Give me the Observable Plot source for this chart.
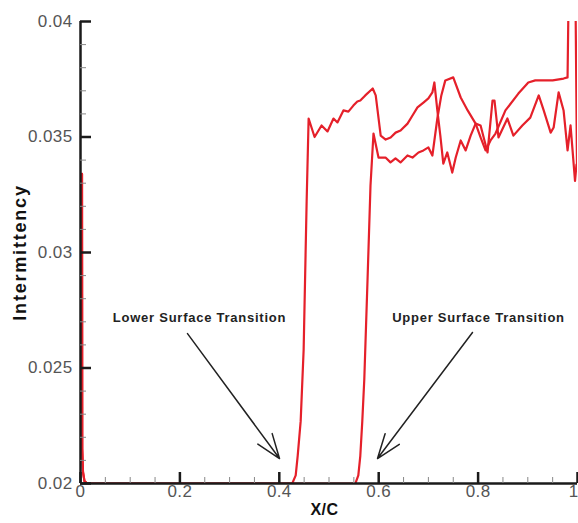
<!DOCTYPE html>
<html>
<head>
<meta charset="utf-8">
<script src="https://cdn.jsdelivr.net/npm/d3@7"></script>
<script src="https://cdn.jsdelivr.net/npm/@observablehq/plot@0.6"></script>
<style>
  html, body { margin: 0; padding: 0; background: #fff; }
  #chart { width: 578px; height: 523px; overflow: hidden; }
</style>
</head>
<body>
<div id="chart"></div>
<script>
// Intermittency along the chord, lower- and upper-surface distributions
const lowerSurface = [
  [0.003, 0.0334], [0.0035, 0.0215], [0.005, 0.0205], [0.008, 0.0201], [0.014, 0.02],
  [0.426, 0.02], [0.433, 0.02035], [0.437, 0.0212], [0.443, 0.0227], [0.449, 0.0258],
  [0.455, 0.0322], [0.459, 0.0358], [0.471, 0.0350], [0.485, 0.0355], [0.497, 0.03524],
  [0.509, 0.0358], [0.517, 0.03563], [0.529, 0.03615], [0.539, 0.0361], [0.549, 0.03636],
  [0.557, 0.03654], [0.563, 0.03658], [0.573, 0.0368], [0.588, 0.0371], [0.594, 0.0368],
  [0.604, 0.03506], [0.614, 0.03489], [0.624, 0.03498], [0.634, 0.03519], [0.644, 0.03528],
  [0.658, 0.03558], [0.668, 0.03593], [0.678, 0.03628], [0.690, 0.03649], [0.700, 0.03667],
  [0.708, 0.03693], [0.712, 0.03736], [0.718, 0.03615], [0.724, 0.03506], [0.730, 0.03385],
  [0.738, 0.03433], [0.748, 0.03346], [0.755, 0.03411], [0.765, 0.03485], [0.775, 0.03442],
  [0.785, 0.03506], [0.795, 0.03558], [0.805, 0.0355], [0.819, 0.03433], [0.829, 0.03658],
  [0.833, 0.03658], [0.841, 0.03498], [0.859, 0.0358], [0.871, 0.03506], [0.889, 0.0355],
  [0.905, 0.03584], [0.922, 0.0368], [0.932, 0.03615], [0.946, 0.03519], [0.952, 0.03541],
  [0.962, 0.03693], [0.972, 0.03615], [0.980, 0.03442], [0.986, 0.0355], [0.995, 0.0331],
  [0.998, 0.0338]
];

const upperSurface = [
  [0.003, 0.0334], [0.0035, 0.0215], [0.005, 0.0205], [0.008, 0.0201], [0.014, 0.02],
  [0.553, 0.02], [0.559, 0.02035], [0.563, 0.0212], [0.567, 0.0227], [0.571, 0.0245],
  [0.5775, 0.0288], [0.5835, 0.0329], [0.5895, 0.03515], [0.5996, 0.03411], [0.6137, 0.03411],
  [0.6237, 0.0339], [0.6338, 0.03407], [0.6439, 0.0339], [0.6579, 0.0342], [0.668, 0.03411],
  [0.680, 0.03433], [0.690, 0.03442], [0.700, 0.03455], [0.708, 0.0342], [0.718, 0.0358],
  [0.726, 0.0368], [0.734, 0.03745], [0.750, 0.03758], [0.765, 0.03671], [0.779, 0.03615],
  [0.795, 0.03558], [0.805, 0.03498], [0.815, 0.03442], [0.825, 0.03485], [0.835, 0.03515],
  [0.855, 0.03615], [0.881, 0.03688], [0.901, 0.03736], [0.915, 0.03745], [0.950, 0.03745],
  [0.972, 0.03753], [0.980, 0.03758], [0.982, 0.0410], [0.996, 0.0410], [0.999, 0.0336]
];

// Axis ticks and their labels
const xMajor = [0, 0.2, 0.4, 0.6, 0.8, 1];
const xLabels = ["0", "0.2", "0.4", "0.6", "0.8", "1"];
const xMinor = [0.05, 0.1, 0.15, 0.25, 0.3, 0.35, 0.45, 0.5, 0.55, 0.65, 0.7, 0.75, 0.85, 0.9, 0.95];
const yMajor = [0.02, 0.025, 0.03, 0.035, 0.04];
const yLabels = ["0.02", "0.025", "0.03", "0.035", "0.04"];
const yMinor = [0.021, 0.022, 0.023, 0.024, 0.026, 0.027, 0.028, 0.029,
                0.031, 0.032, 0.033, 0.034, 0.036, 0.037, 0.038, 0.039];

// Transition annotations: label position, arrow tail and arrow tip
const notes = [
  {text: "Lower Surface Transition", tx: 0.2394, ty: 0.02719, x1: 0.2153, y1: 0.02649, x2: 0.4004, y2: 0.02108},
  {text: "Upper Surface Transition", tx: 0.8008, ty: 0.02719, x1: 0.7887, y1: 0.02654, x2: 0.5976, y2: 0.02108}
];

const W = 578, H = 523, mL = 80, mR = 1, mT = 21, mB = 40;
const plotW = W - mL - mR, plotH = H - mT - mB;
const red = "#e5202a";
const axisColor = "#1a1a1a";
const labelColor = "#555";

const toRows = (pts) => pts.map(([x, y]) => ({x, y}));

const chart = Plot.plot({
  width: W, height: H,
  marginLeft: mL, marginRight: mR, marginTop: mT, marginBottom: mB,
  x: {domain: [0, 1], axis: null},
  y: {domain: [0.02, 0.04], axis: null},
  style: {fontFamily: "'Liberation Sans', Arial, sans-serif", background: "#fff", overflow: "visible"},
  marks: [
    Plot.line(toRows(lowerSurface), {x: "x", y: "y", stroke: red, strokeWidth: 2.2, clip: true}),
    Plot.line(toRows(upperSurface), {x: "x", y: "y", stroke: red, strokeWidth: 2.2, clip: true}),

    // axis lines
    Plot.ruleX([0], {stroke: axisColor, strokeWidth: 2.5}),
    Plot.ruleY([0.02], {stroke: axisColor, strokeWidth: 2.5}),

    // inward ticks
    Plot.tickX(xMinor, {x: d => d, insetTop: plotH - 6, stroke: "#888", strokeWidth: 1}),
    Plot.tickY(yMinor, {y: d => d, insetRight: plotW - 6, stroke: "#888", strokeWidth: 1}),
    Plot.tickX(xMajor, {x: d => d, insetTop: plotH - 11, stroke: axisColor, strokeWidth: 2.5}),
    Plot.tickY(yMajor, {y: d => d, insetRight: plotW - 11, stroke: axisColor, strokeWidth: 2.5}),

    // tick labels
    Plot.text(yMajor, {y: d => d, text: (d, i) => yLabels[i], frameAnchor: "left", textAnchor: "end",
      dx: -8, fontSize: 17, fill: labelColor, className: "tick-label"}),
    Plot.text(xMajor.filter(d => d < 1), {x: d => d, text: d => xLabels[xMajor.indexOf(d)], frameAnchor: "bottom",
      dy: 13, fontSize: 17, fill: labelColor, className: "tick-label"}),
    Plot.text(xMajor.filter(d => d === 1), {x: d => d, text: d => xLabels[xMajor.indexOf(d)], frameAnchor: "bottom",
      dy: 13, dx: -4, fontSize: 17, fill: labelColor}),

    // axis titles
    Plot.text(["X/C"], {x: 0.491, frameAnchor: "bottom", dy: 31, text: d => d,
      fontSize: 16, fontWeight: "bold", fill: "#111", className: "x-title"}),
    Plot.text(["Intermittency"], {y: 0.03, frameAnchor: "left", textAnchor: "middle", dx: -60, rotate: -90,
      text: d => d, fontSize: 18, fontWeight: "bold", fill: "#111", className: "y-title"}),

    // annotations
    Plot.arrow(notes, {x1: "x1", y1: "y1", x2: "x2", y2: "y2", stroke: "#222", strokeWidth: 1.5,
      headLength: 26, headAngle: 40}),
    Plot.text(notes, {x: "tx", y: "ty", text: "text", fontSize: 13, fontWeight: "bold", fill: "#222",
      className: "note-label"})
  ]
});

// widen the lettering of the labels
const spacing = {"tick-label": "0.4px", "x-title": "0.5px", "y-title": "1.8px", "note-label": "0.75px"};
for (const [cls, ls] of Object.entries(spacing)) {
  chart.querySelectorAll(`.${cls}`).forEach(g => g.setAttribute("letter-spacing", ls));
}

document.getElementById("chart").append(chart);
</script>
</body>
</html>
